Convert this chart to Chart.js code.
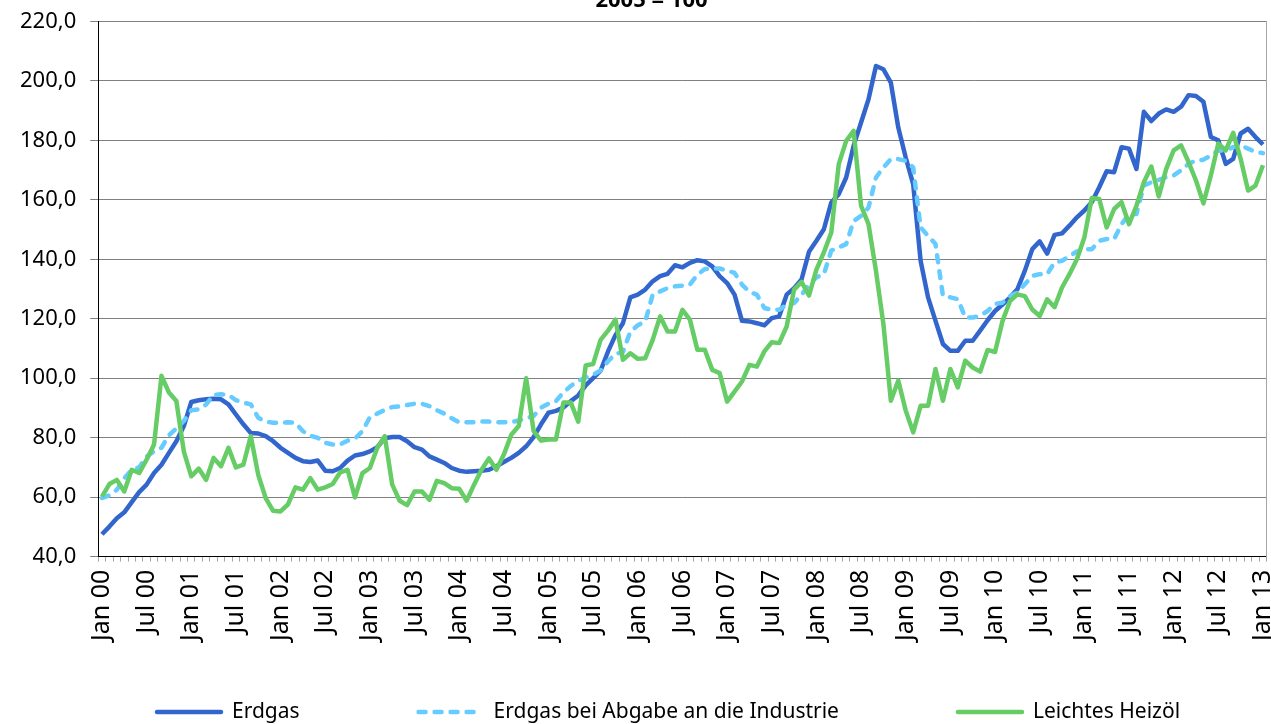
<!DOCTYPE html>
<html lang="de">
<head>
    <meta charset="UTF-8">
    <title>Erdgas und leichtes Heizöl, 2005 = 100</title>
    <script src="https://cdn.jsdelivr.net/npm/chart.js"></script>
    <style>
        html, body { margin: 0; padding: 0; background: #fff; overflow: hidden; }
        #wrap { position: absolute; left: 0; top: -20px; width: 1301px; height: 744px; }
    </style>
</head>
<body>
    <div id="wrap"><canvas id="preisChart"></canvas></div>

    <script>
        // Monate und Jahre der Kategorien (Jan 00 bis Jan 13)
        const monate = ['Jan', 'Feb', 'Mrz', 'Apr', 'Mai', 'Jun', 'Jul', 'Aug', 'Sep', 'Okt', 'Nov', 'Dez'];
        const jahre = ['00', '01', '02', '03', '04', '05', '06', '07', '08', '09', '10', '11', '12', '13'];

        // Y-Achse
        const yMin = 40, yMax = 220, yStep = 20;

        // Indexwerte, 2005 = 100
        const erdgas = [
            47.5, 50.1, 52.9, 54.9, 58.3, 61.7, 64.2, 68.1, 70.9, 74.9, 78.8, 83.9,
            92.0, 92.6, 92.9, 93.1, 92.9, 91.2, 87.8, 84.5, 81.6, 81.4, 80.5, 78.8,
            76.6, 74.9, 73.2, 72.1, 71.8, 72.3, 68.9, 68.7, 69.8, 72.3, 74.0, 74.5,
            75.4, 76.8, 79.8, 80.2, 80.2, 78.8, 76.8, 76.0, 73.7, 72.6, 71.5, 69.8,
            68.9, 68.5, 68.7, 68.9, 69.2, 70.4, 71.8, 73.2, 74.9, 77.1, 80.2, 84.5,
            88.4, 89.0, 90.1, 92.3, 94.2, 97.6, 100.0, 102.5, 109.0, 114.5, 118.5, 127.2,
            128.1, 129.8, 132.6, 134.3, 135.1, 138.0, 137.3, 138.8, 139.7, 139.3, 137.6, 134.3,
            132.0, 128.1, 119.3, 119.1, 118.5, 117.8, 120.2, 120.8, 128.1, 130.3, 133.2, 142.5,
            146.2, 150.1, 159.1, 161.9, 167.5, 178.2, 186.0, 193.8, 205.0, 203.9, 199.4, 184.3,
            174.2, 165.3, 139.5, 127.2, 119.3, 111.5, 109.2, 109.2, 112.6, 112.6, 116.0, 119.5,
            122.6, 124.8, 127.1, 129.9, 136.1, 143.4, 146.0, 141.9, 148.2, 148.7, 151.3, 154.1,
            156.4, 159.2, 164.2, 169.6, 169.3, 177.7, 177.2, 170.4, 189.6, 186.5, 189.0, 190.4,
            189.6, 191.3, 195.2, 194.9, 193.0, 181.1, 180.0, 172.1, 173.8, 182.3, 183.9, 181.1,
            178.6
        ];
        const erdgasIndustrie = [
            59.7, 60.6, 62.5, 66.4, 69.2, 70.0, 73.7, 75.4, 76.6, 80.8, 83.1, 85.6,
            89.2, 89.5, 91.2, 94.4, 94.6, 94.4, 92.6, 91.8, 91.2, 86.7, 85.4, 85.0,
            85.0, 85.2, 85.0, 82.2, 80.7, 79.9, 78.3, 77.7, 77.7, 79.0, 79.7, 82.2,
            86.9, 88.1, 89.3, 90.3, 90.5, 91.0, 91.4, 91.4, 90.6, 89.2, 88.1, 86.5,
            85.2, 85.2, 85.2, 85.4, 85.4, 85.2, 85.2, 85.2, 85.8, 86.5, 87.3, 90.1,
            91.4, 92.3, 95.2, 97.4, 99.1, 100.2, 101.2, 102.6, 105.7, 108.2, 108.8, 115.7,
            117.8, 119.1, 128.1, 129.2, 130.3, 130.9, 131.1, 131.5, 134.8, 136.7, 136.9, 136.9,
            136.2, 135.4, 131.5, 129.0, 128.1, 123.6, 123.0, 123.0, 124.7, 125.3, 128.0, 131.5,
            133.9, 135.0, 142.9, 144.0, 145.1, 152.9, 154.6, 157.4, 167.5, 170.9, 173.7, 173.7,
            173.1, 170.9, 150.7, 147.9, 145.1, 127.7, 127.2, 126.6, 120.4, 120.4, 121.0, 122.6,
            125.0, 125.4, 127.6, 128.8, 131.6, 134.4, 135.0, 135.0, 138.9, 139.5, 141.1, 142.6,
            143.4, 143.4, 146.2, 146.8, 146.8, 151.8, 155.2, 155.2, 164.8, 165.9, 166.7, 167.6,
            168.2, 169.9, 172.1, 173.2, 173.5, 174.9, 176.6, 176.6, 177.7, 178.3, 177.2, 176.1,
            175.7
        ];
        const heizoel = [
            60.2, 64.4, 65.8, 61.9, 69.2, 68.1, 72.6, 77.7, 100.8, 95.2, 92.3, 75.4,
            67.0, 69.6, 65.8, 73.2, 70.4, 76.6, 70.0, 70.9, 80.5, 67.5, 59.7, 55.4,
            55.2, 57.6, 63.3, 62.5, 66.4, 62.5, 63.3, 64.4, 68.3, 69.2, 59.9, 68.1,
            69.8, 76.6, 80.5, 64.2, 58.8, 57.3, 61.9, 61.9, 59.1, 65.5, 64.7, 63.0,
            62.8, 58.8, 64.2, 69.2, 73.0, 69.2, 74.3, 81.0, 83.9, 100.0, 82.2, 79.0,
            79.4, 79.4, 91.8, 91.8, 85.4, 104.3, 104.8, 112.9, 116.0, 119.7, 106.2, 108.4,
            106.5, 106.7, 112.9, 120.8, 115.7, 115.7, 123.0, 119.7, 109.6, 109.6, 102.8, 101.7,
            92.1, 95.5, 98.9, 104.5, 103.9, 109.0, 112.1, 111.8, 117.4, 129.8, 132.4, 127.8,
            136.5, 142.3, 149.0, 172.0, 179.8, 183.2, 158.0, 151.8, 136.1, 118.2, 92.4, 99.2,
            89.1, 81.8, 90.7, 90.7, 103.1, 92.4, 103.1, 96.9, 105.9, 103.6, 102.2, 109.5,
            108.8, 119.2, 125.9, 128.2, 127.6, 123.1, 120.9, 126.5, 123.9, 130.5, 135.0, 140.0,
            147.3, 160.6, 160.3, 150.7, 156.9, 159.2, 151.8, 158.0, 165.9, 171.2, 161.1, 170.4,
            176.6, 178.3, 172.7, 166.5, 158.8, 168.2, 178.9, 176.6, 182.5, 173.8, 163.1, 164.8,
            171.6
        ];

        // Kategorien: jeder Monat, beschriftet wird nur Jan und Jul
        const kategorien = [];
        jahre.forEach((j, n) => {
            monate.forEach((m, k) => {
                if (n < jahre.length - 1 || k === 0) kategorien.push(m + ' ' + j);
            });
        });

        // Legende wie im Original: Linienmuster links, Text rechts, weit auseinander
        const legendePlugin = {
            id: 'legende',
            afterDraw(chart) {
                const ctx = chart.ctx;
                const y = 732;
                let x = 155;
                ctx.save();
                ctx.font = '21px "Noto Sans"';
                ctx.textBaseline = 'middle';
                ctx.textAlign = 'left';
                chart.data.datasets.forEach(ds => {
                    ctx.beginPath();
                    ctx.setLineDash(ds.borderDash || []);
                    ctx.lineCap = 'round';
                    ctx.lineWidth = ds.borderWidth;
                    ctx.strokeStyle = ds.borderColor;
                    ctx.moveTo(x + 2, y);
                    ctx.lineTo(x + 66, y);
                    ctx.stroke();
                    ctx.setLineDash([]);
                    ctx.fillStyle = '#000';
                    ctx.fillText(ds.label, x + 77, y);
                    x += 77 + ctx.measureText(ds.label).width + 117;
                });
                ctx.restore();
            }
        };

        Chart.defaults.font.family = '"Noto Sans", sans-serif';
        Chart.defaults.color = '#000';

        const ctx = document.getElementById('preisChart').getContext('2d');
        new Chart(ctx, {
            type: 'line',
            data: {
                labels: kategorien,
                datasets: [
                    { label: 'Erdgas', data: erdgas, borderColor: '#3366CC', borderWidth: 4.5, order: 2 },
                    { label: 'Erdgas bei Abgabe an die Industrie', data: erdgasIndustrie, borderColor: '#66CCFF', borderWidth: 4.5, borderDash: [7, 9], borderCapStyle: 'round', order: 1 },
                    { label: 'Leichtes Heizöl', data: heizoel, borderColor: '#66CC66', borderWidth: 4.5, order: 0 }
                ]
            },
            options: {
                responsive: true,
                maintainAspectRatio: false,
                animation: false,
                elements: {
                    point: { radius: 0 },
                    line: { tension: 0, fill: false, borderJoinStyle: 'round' }
                },
                layout: { padding: { left: 6, right: 4, bottom: 75 } },
                plugins: {
                    legend: { display: false },
                    tooltip: { enabled: false },
                    title: {
                        display: true,
                        text: '2005 = 100',
                        font: { size: 22, weight: 'bold' },
                        padding: { top: 8, bottom: 7 }
                    }
                },
                scales: {
                    x: {
                        offset: true,
                        grid: { offset: true, drawOnChartArea: false, drawTicks: true, tickLength: 5, color: '#a6a6a6' },
                        border: { color: '#000', width: 1 },
                        ticks: {
                            autoSkip: false,
                            maxRotation: 90,
                            minRotation: 90,
                            padding: 8,
                            font: { size: 25 },
                            callback: (v, i) => (i % 6 === 0 ? kategorien[i] : '')
                        }
                    },
                    y: {
                        min: yMin,
                        max: yMax,
                        grid: { color: '#808080', tickLength: 8 },
                        border: { color: '#000', width: 1 },
                        ticks: {
                            stepSize: yStep,
                            padding: 14,
                            font: { size: 22 },
                            callback: v => v.toFixed(1).replace('.', ',')
                        }
                    },
                    rechts: {
                        position: 'right',
                        min: yMin,
                        max: yMax,
                        grid: { display: false },
                        border: { color: '#a6a6a6', width: 1 },
                        ticks: { display: false }
                    }
                }
            },
            plugins: [legendePlugin]
        });
    </script>
</body>
</html>
